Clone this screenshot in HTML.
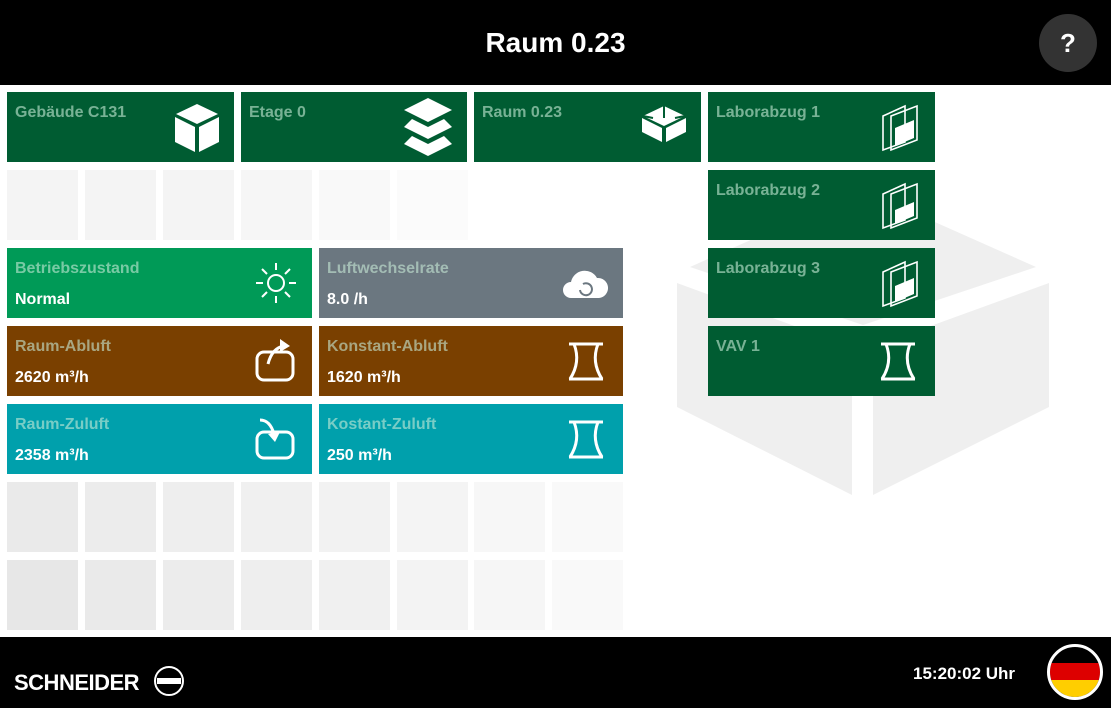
<!DOCTYPE html>
<html><head><meta charset="utf-8"><style>
*{margin:0;padding:0;box-sizing:border-box}
body{width:1111px;height:708px;background:#fff;position:relative;overflow:hidden;font-family:"Liberation Sans",sans-serif;font-weight:bold}
.hdr{position:absolute;left:0;top:0;width:1111px;height:85px;background:#000}
.ttl{position:absolute;left:0;width:1111px;top:27px;text-align:center;color:#fff;font-size:28px}
.help{position:absolute;left:1039px;top:14px;width:58px;height:58px;border-radius:50%;background:#333;color:#fff;font-size:26px;text-align:center;line-height:58px}
.ftr{position:absolute;left:0;top:637px;width:1111px;height:71px;background:#000}
.t{position:absolute;color:#fff}
.t .l{position:absolute;left:8px;top:12px;font-size:16px;color:rgba(200,235,215,.6)}
.t .v{position:absolute;left:8px;top:43px;font-size:16px;color:#fff}
.t svg{position:absolute;right:14px;top:10px}
.g{position:absolute;width:71px;height:70px}
.G{background:#005c32}
</style></head><body>
<svg style="position:absolute;left:0;top:0" width="1111" height="708">
<g fill="#efefef">
<polygon points="690,267 863,190 1036,267 863,325"/>
<polygon points="677,283 852,347 852,495 677,407"/>
<polygon points="1049,283 873,347 873,495 1049,407"/>
</g></svg>
<div class="hdr"><div class="ttl">Raum 0.23</div><div class="help">?</div></div>

<div class="t G" style="left:7px;top:92px;width:227px;height:70px"><div class="l">Gebäude C131</div>
<svg width="46" height="52" viewBox="0 0 46 52"><polygon points="23,2 44,12 23,22 2,12" fill="#fff"/><polygon points="1,15 21,25 21,50 1,40" fill="#fff"/><polygon points="45,15 25,25 25,50 45,40" fill="#fff"/></svg></div>
<div class="t G" style="left:241px;top:92px;width:226px;height:70px"><div class="l">Etage 0</div>
<svg width="50" height="58" viewBox="0 0 50 58" style="top:6px"><g fill="#fff"><polygon points="25,0 49,12 25,24 1,12"/><polygon points="9,21 25,29 41,21 49,29 25,41 1,29"/><polygon points="9,38 25,46 41,38 49,46 25,58 1,46"/></g></svg></div>
<div class="t G" style="left:474px;top:92px;width:227px;height:70px"><div class="l">Raum 0.23</div>
<svg width="46" height="40" viewBox="0 0 46 40" style="top:14px"><g fill="#fff"><polygon points="23,0 44,10 23,20 2,10"/><polygon points="1,12 21,22 21,36 1,26"/><polygon points="45,12 25,22 25,36 45,26"/></g><g stroke="#005c32" stroke-width="2"><line x1="23" y1="0" x2="23" y2="12"/><line x1="2" y1="10" x2="12" y2="12"/><line x1="44" y1="10" x2="34" y2="12"/></g></svg></div>

<div class="t G" style="left:708px;top:92px;width:227px;height:70px"><div class="l">Laborabzug 1</div>
<svg width="40" height="50" viewBox="0 0 40 50"><g fill="none" stroke="#fff" stroke-width="1.6"><polygon points="2,14 24,4 24,40 2,48"/><polygon points="10,14 36,4 36,38 10,48"/></g><polygon points="14,26 33,18 33,36 14,44" fill="#fff"/></svg></div>
<div class="t G" style="left:708px;top:170px;width:227px;height:70px"><div class="l">Laborabzug 2</div>
<svg width="40" height="50" viewBox="0 0 40 50"><g fill="none" stroke="#fff" stroke-width="1.6"><polygon points="2,14 24,4 24,40 2,48"/><polygon points="10,14 36,4 36,38 10,48"/></g><polygon points="14,30 33,22 33,36 14,44" fill="#fff"/></svg></div>
<div class="t G" style="left:708px;top:248px;width:227px;height:70px"><div class="l">Laborabzug 3</div>
<svg width="40" height="50" viewBox="0 0 40 50"><g fill="none" stroke="#fff" stroke-width="1.6"><polygon points="2,14 24,4 24,40 2,48"/><polygon points="10,14 36,4 36,38 10,48"/></g><polygon points="14,28 33,20 33,36 14,44" fill="#fff"/></svg></div>
<div class="t G" style="left:708px;top:326px;width:227px;height:70px"><div class="l">VAV 1</div>
<svg width="38" height="40" viewBox="0 0 38 40" style="top:16px;right:18px"><path d="M2,2H36M7,2Q14,20 3,37M31,2Q24,20 35,37M2,37H36" fill="none" stroke="#fff" stroke-width="3"/></svg></div>

<div class="t" style="left:7px;top:248px;width:305px;height:70px;background:#009a57"><div class="l">Betriebszustand</div><div class="v">Normal</div>
<svg width="44" height="44" viewBox="0 0 44 44" style="top:13px"><circle cx="22" cy="22" r="8" fill="none" stroke="#fff" stroke-width="2"/><g stroke="#fff" stroke-width="2"><line x1="22" y1="2" x2="22" y2="9"/><line x1="22" y1="35" x2="22" y2="42"/><line x1="2" y1="22" x2="9" y2="22"/><line x1="35" y1="22" x2="42" y2="22"/><line x1="8" y1="8" x2="13" y2="13"/><line x1="31" y1="31" x2="36" y2="36"/><line x1="36" y1="8" x2="31" y2="13"/><line x1="13" y1="31" x2="8" y2="36"/></g></svg></div>
<div class="t" style="left:319px;top:248px;width:304px;height:70px;background:#6b7780"><div class="l">Luftwechselrate</div><div class="v">8.0 /h</div>
<svg width="48" height="36" viewBox="0 0 48 36" style="top:18px"><path d="M10,32 A8,8 0 0 1 10,16 A14,14 0 0 1 36,12 A10,10 0 0 1 38,32Z" fill="#fff"/><path d="M19,24 A6,6 0 1 0 22,18" fill="none" stroke="#6b7780" stroke-width="2"/></svg></div>
<div class="t" style="left:7px;top:326px;width:305px;height:70px;background:#7a4000"><div class="l">Raum-Abluft</div><div class="v">2620 m³/h</div>
<svg width="44" height="48" viewBox="0 0 44 48"><rect x="3" y="16" width="36" height="28" rx="7" fill="none" stroke="#fff" stroke-width="3"/><path d="M14,28 Q18,12 30,10" fill="none" stroke="#fff" stroke-width="3"/><polygon points="26,3 36,10 26,16" fill="#fff"/></svg></div>
<div class="t" style="left:319px;top:326px;width:304px;height:70px;background:#7a4000"><div class="l">Konstant-Abluft</div><div class="v">1620 m³/h</div>
<svg width="38" height="40" viewBox="0 0 38 40" style="top:16px;right:18px"><path d="M2,2H36M7,2Q14,20 3,37M31,2Q24,20 35,37M2,37H36" fill="none" stroke="#fff" stroke-width="3"/></svg></div>
<div class="t" style="left:7px;top:404px;width:305px;height:70px;background:#00a0ac"><div class="l">Raum-Zuluft</div><div class="v">2358 m³/h</div>
<svg width="44" height="48" viewBox="0 0 44 48"><rect x="3" y="18" width="36" height="26" rx="7" fill="none" stroke="#fff" stroke-width="3"/><path d="M6,6 Q16,6 20,20" fill="none" stroke="#fff" stroke-width="3"/><polygon points="14,20 26,18 21,28" fill="#fff"/></svg></div>
<div class="t" style="left:319px;top:404px;width:304px;height:70px;background:#00a0ac"><div class="l">Kostant-Zuluft</div><div class="v">250 m³/h</div>
<svg width="38" height="40" viewBox="0 0 38 40" style="top:16px;right:18px"><path d="M2,2H36M7,2Q14,20 3,37M31,2Q24,20 35,37M2,37H36" fill="none" stroke="#fff" stroke-width="3"/></svg></div>

<div class="g" style="left:7px;top:170px;background:#f4f4f4"></div>
<div class="g" style="left:85px;top:170px;background:#f4f4f4"></div>
<div class="g" style="left:163px;top:170px;background:#f4f4f4"></div>
<div class="g" style="left:241px;top:170px;background:#f6f6f6"></div>
<div class="g" style="left:319px;top:170px;background:#f9f9f9"></div>
<div class="g" style="left:397px;top:170px;background:#fbfbfb"></div>

<div class="g" style="left:7px;top:482px;background:#eaeaea"></div>
<div class="g" style="left:85px;top:482px;background:#ececec"></div>
<div class="g" style="left:163px;top:482px;background:#eeeeee"></div>
<div class="g" style="left:241px;top:482px;background:#f0f0f0"></div>
<div class="g" style="left:319px;top:482px;background:#f2f2f2"></div>
<div class="g" style="left:397px;top:482px;background:#f4f4f4"></div>
<div class="g" style="left:474px;top:482px;background:#f7f7f7"></div>
<div class="g" style="left:552px;top:482px;background:#f9f9f9"></div>
<div class="g" style="left:7px;top:560px;background:#e7e7e7"></div>
<div class="g" style="left:85px;top:560px;background:#eaeaea"></div>
<div class="g" style="left:163px;top:560px;background:#ececec"></div>
<div class="g" style="left:241px;top:560px;background:#eeeeee"></div>
<div class="g" style="left:319px;top:560px;background:#f0f0f0"></div>
<div class="g" style="left:397px;top:560px;background:#f3f3f3"></div>
<div class="g" style="left:474px;top:560px;background:#f6f6f6"></div>
<div class="g" style="left:552px;top:560px;background:#f9f9f9"></div>

<div class="ftr">
<div style="position:absolute;left:14px;top:33px;color:#fff;font-size:22px;letter-spacing:-0.5px">SCHNEIDER</div>
<svg style="position:absolute;left:152px;top:28px" width="34" height="32" viewBox="0 0 34 32"><ellipse cx="17" cy="16" rx="14" ry="14" fill="none" stroke="#fff" stroke-width="2"/><rect x="5" y="13" width="24" height="6" fill="#fff"/></svg>
<div style="position:absolute;left:913px;top:27px;color:#fff;font-size:17px">15:20:02 Uhr</div>
<svg style="position:absolute;left:1046px;top:6px" width="58" height="58" viewBox="0 0 58 58"><defs><clipPath id="c"><circle cx="29" cy="29" r="25"/></clipPath></defs><g clip-path="url(#c)"><rect x="0" y="0" width="58" height="20" fill="#000"/><rect x="0" y="20" width="58" height="17" fill="#dd0000"/><rect x="0" y="37" width="58" height="21" fill="#ffce00"/></g><circle cx="29" cy="29" r="26.5" fill="none" stroke="#fff" stroke-width="3"/></svg>
</div>
</body></html>
